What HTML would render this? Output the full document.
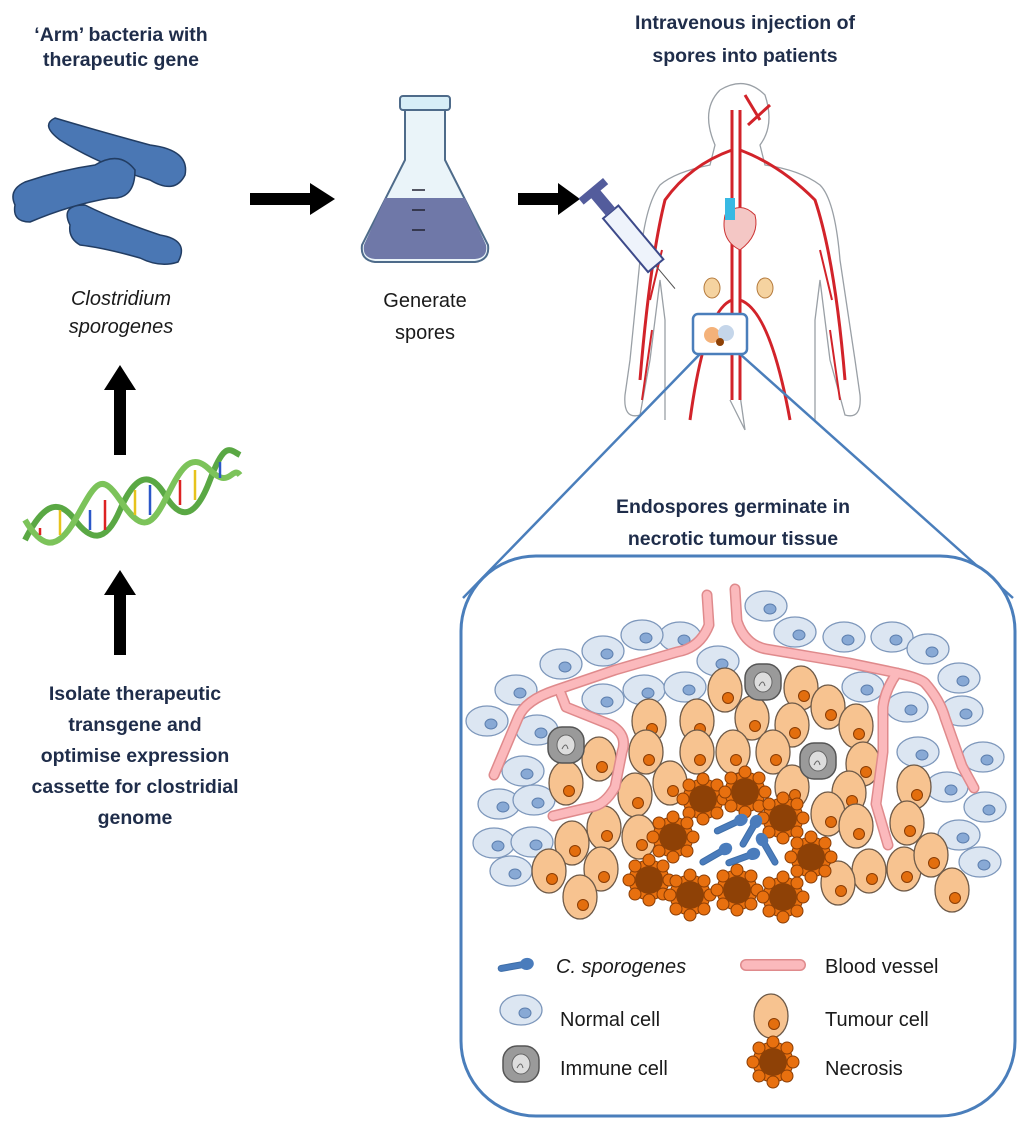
<!DOCTYPE html>
<html><head><meta charset="utf-8"><style>
body{margin:0;background:#fff;}
svg{display:block;}
.t{font-family:"Liberation Sans",sans-serif;}
.h{font-family:"Liberation Sans",sans-serif;font-weight:bold;fill:#1f2d4a;font-size:19.5px;text-anchor:middle;}
.l{font-family:"Liberation Sans",sans-serif;fill:#1a1a1a;font-size:20px;}
</style></head><body>
<svg width="1024" height="1125" viewBox="0 0 1024 1125" xmlns="http://www.w3.org/2000/svg">
<defs>
<g id="nc"><ellipse rx="21" ry="15" fill="#dce6f2" stroke="#7d97bb" stroke-width="1.3"/><ellipse cx="4" cy="3" rx="6" ry="5" fill="#88a9d5" stroke="#5d7fae"/></g>
<g id="tc"><ellipse rx="17" ry="22" fill="#f7c390" stroke="#6e5a48" stroke-width="1.3"/><circle cx="3" cy="8" r="5.5" fill="#e36e0e" stroke="#8a3d05"/></g>
<g id="ic"><rect x="-18" y="-18" width="36" height="36" rx="14" fill="#9a9a9a" stroke="#555" stroke-width="1.5"/><ellipse rx="9" ry="10" fill="#ddd" stroke="#666"/><path d="M-4,4 q4,-8 6,0" fill="none" stroke="#666"/></g>
<g id="nx"><circle r="20" fill="#e8700f" stroke="#8a3d05"/>
<g fill="#e8700f" stroke="#8a3d05"><circle cx="0" cy="-20" r="6"/><circle cx="14" cy="-14" r="6"/><circle cx="20" cy="0" r="6"/><circle cx="14" cy="14" r="6"/><circle cx="0" cy="20" r="6"/><circle cx="-14" cy="14" r="6"/><circle cx="-20" cy="0" r="6"/><circle cx="-14" cy="-14" r="6"/></g>
<circle r="14" fill="#8e4106"/></g>
<g id="bac"><path d="M-14,0 L8,0" stroke="#3e6ea8" stroke-width="7" stroke-linecap="round"/><ellipse cx="12" cy="0" rx="7" ry="6" fill="#4a7cbc"/><path d="M-14,0 L8,0" stroke="#4a7cbc" stroke-width="5" stroke-linecap="round"/></g>
</defs>

<text class="h" x="121" y="41">‘Arm’ bacteria with</text>
<text class="h" x="121" y="66">therapeutic gene</text>
<text class="h" x="745" y="29">Intravenous injection of</text>
<text class="h" x="745" y="62">spores into patients</text>
<text class="h" x="733" y="513">Endospores germinate in</text>
<text class="h" x="733" y="545">necrotic tumour tissue</text>
<g class="h"><text x="135" y="700">Isolate therapeutic</text><text x="135" y="731">transgene and</text><text x="135" y="762">optimise expression</text><text x="135" y="793">cassette for clostridial</text><text x="135" y="824">genome</text></g>

<g fill="#4a77b4" stroke="#223d63" stroke-width="1.5">
<path d="M60,140 Q40,125 55,118 Q95,130 150,145 Q190,150 185,175 Q175,195 150,180 Q100,165 60,140Z"/>
<path d="M15,205 Q8,190 25,182 Q60,170 95,165 Q120,150 135,170 Q135,200 110,198 Q70,205 30,222 Q12,222 15,205Z"/>
<path d="M70,225 Q60,205 85,205 Q115,220 160,235 Q190,240 178,262 Q160,268 140,258 Q105,248 80,245 Q68,238 70,225Z"/>
</g>
<text class="t" x="121" y="305" text-anchor="middle" font-style="italic" font-size="20" fill="#1a1a1a">Clostridium</text>
<text class="t" x="121" y="333" text-anchor="middle" font-style="italic" font-size="20" fill="#1a1a1a">sporogenes</text>

<path d="M114,455 L114,390 L104,390 L120,365 L136,390 L126,390 L126,455Z" fill="#000"/>
<path d="M114,655 L114,595 L104,595 L120,570 L136,595 L126,595 L126,655Z" fill="#000"/>

<g fill="none" stroke-width="6">
<path d="M25,540 C45,500 60,500 75,520 S105,545 120,510 S150,470 165,495 S195,520 210,480 S230,450 240,455" stroke="#5aa844"/>
<path d="M25,520 C40,545 55,555 75,520 S100,470 120,500 S150,530 165,500 S190,450 210,470 S232,465 240,475" stroke="#7cc35a"/>
</g>
<g stroke-width="2.5">
<line x1="40" y1="528" x2="40" y2="535" stroke="#d22"/><line x1="60" y1="510" x2="60" y2="535" stroke="#e7c31c"/><line x1="90" y1="510" x2="90" y2="530" stroke="#2b57c8"/><line x1="105" y1="500" x2="105" y2="530" stroke="#d22"/><line x1="135" y1="490" x2="135" y2="515" stroke="#e7c31c"/><line x1="150" y1="485" x2="150" y2="515" stroke="#2b57c8"/><line x1="180" y1="480" x2="180" y2="505" stroke="#d22"/><line x1="195" y1="470" x2="195" y2="500" stroke="#e7c31c"/><line x1="220" y1="462" x2="220" y2="478" stroke="#2b57c8"/>
</g>

<path d="M250,193 L310,193 L310,183 L335,199 L310,215 L310,205 L250,205Z" fill="#000"/>
<path d="M518,193 L558,193 L558,183 L580,199 L558,215 L558,205 L518,205Z" fill="#000"/>

<path d="M405,108 L445,108 L445,160 L488,245 Q490,260 475,262 L375,262 Q360,260 362,245 L405,160Z" fill="#eaf4f9" stroke="#4e6b8a" stroke-width="2"/>
<path d="M385,198 L465,198 L486,245 Q488,258 475,259 L375,259 Q362,258 364,245Z" fill="#6f78a8"/>
<rect x="400" y="96" width="50" height="14" rx="3" fill="#d7eef7" stroke="#4e6b8a" stroke-width="2"/>
<g stroke="#223" stroke-width="1.5"><line x1="412" y1="190" x2="425" y2="190"/><line x1="412" y1="210" x2="425" y2="210"/><line x1="412" y1="230" x2="425" y2="230"/></g>
<text class="t" x="425" y="307" text-anchor="middle" font-size="20" fill="#1a1a1a">Generate</text>
<text class="t" x="425" y="339" text-anchor="middle" font-size="20" fill="#1a1a1a">spores</text>

<!-- body -->
<g fill="none" stroke="#9aa0a6" stroke-width="1.3">
<path d="M720,90 Q745,75 765,95 Q775,125 760,145 L765,165 Q800,170 820,185 Q835,200 840,260 L855,360 L860,395 Q862,420 845,415 L830,360 L820,280 L815,320 L815,420"/>
<path d="M720,90 Q700,110 715,145 L710,165 Q675,172 660,185 Q645,205 640,260 L630,360 L625,395 Q623,420 640,415 L650,360 L660,280 L665,320 L665,420"/>
<path d="M730,400 L745,430 M740,395 L745,430"/>
</g>
<g fill="none" stroke="#d2232a" stroke-width="3">
<path d="M740,110 L740,400"/><path d="M732,110 L732,400"/>
<path d="M740,150 Q780,165 815,200 Q835,260 845,380"/><path d="M732,150 Q690,165 665,200 Q650,260 640,380"/>
<path d="M740,300 Q770,310 790,420"/><path d="M732,300 Q705,310 690,420"/>
<path d="M745,95 L760,120 M748,125 L770,105"/>
<path d="M830,330 L840,400 M652,330 L642,400 M820,250 L832,300 M662,250 L650,300" stroke-width="2"/>
</g>
<path d="M725,215 q15,-15 30,0 q5,20 -15,35 q-20,-10 -15,-35z" fill="#f4c7c5" stroke="#c33"/>
<rect x="725" y="198" width="10" height="22" fill="#38b9e3"/>
<ellipse cx="712" cy="288" rx="8" ry="10" fill="#f5d3a0" stroke="#b47a3c"/><ellipse cx="765" cy="288" rx="8" ry="10" fill="#f5d3a0" stroke="#b47a3c"/>
<g transform="rotate(-40 630 235)"><rect x="620" y="205" width="20" height="70" fill="#eef3fb" stroke="#3d4a8a" stroke-width="2"/><rect x="624" y="180" width="12" height="25" fill="#535c9c"/><rect x="614" y="174" width="32" height="8" fill="#535c9c"/><line x1="630" y1="275" x2="630" y2="305" stroke="#555"/></g>
<rect x="693" y="314" width="54" height="40" rx="5" fill="#fff" stroke="#4a7ebb" stroke-width="2.5"/>
<circle cx="712" cy="335" r="8" fill="#f4b27a"/><circle cx="726" cy="333" r="8" fill="#c5d6ea"/><circle cx="720" cy="342" r="4" fill="#8e4106"/>
<line x1="700" y1="354" x2="463" y2="598" stroke="#4a7ebb" stroke-width="2.5"/>
<line x1="740" y1="354" x2="1013" y2="598" stroke="#4a7ebb" stroke-width="2.5"/>

<rect x="461" y="556" width="554" height="560" rx="75" fill="#fff" stroke="#4a7ebb" stroke-width="3"/>

<g>
<use href="#nc" x="766" y="606"/><use href="#nc" x="795" y="632"/><use href="#nc" x="844" y="637"/><use href="#nc" x="892" y="637"/><use href="#nc" x="928" y="649"/><use href="#nc" x="959" y="678"/><use href="#nc" x="962" y="711"/><use href="#nc" x="983" y="757"/><use href="#nc" x="985" y="807"/><use href="#nc" x="959" y="835"/><use href="#nc" x="980" y="862"/><use href="#nc" x="863" y="687"/><use href="#nc" x="907" y="707"/><use href="#nc" x="918" y="752"/><use href="#nc" x="947" y="787"/><use href="#nc" x="718" y="661"/><use href="#nc" x="680" y="637"/><use href="#nc" x="642" y="635"/><use href="#nc" x="603" y="651"/><use href="#nc" x="561" y="664"/><use href="#nc" x="516" y="690"/><use href="#nc" x="487" y="721"/><use href="#nc" x="537" y="730"/><use href="#nc" x="523" y="771"/><use href="#nc" x="499" y="804"/><use href="#nc" x="534" y="800"/><use href="#nc" x="494" y="843"/><use href="#nc" x="532" y="842"/><use href="#nc" x="511" y="871"/><use href="#nc" x="603" y="699"/><use href="#nc" x="644" y="690"/><use href="#nc" x="685" y="687"/>
</g>
<g>
<use href="#tc" x="725" y="690"/><use href="#tc" x="801" y="688"/><use href="#tc" x="828" y="707"/><use href="#tc" x="856" y="726"/><use href="#tc" x="752" y="718"/><use href="#tc" x="792" y="725"/><use href="#tc" x="649" y="721"/><use href="#tc" x="697" y="721"/><use href="#tc" x="646" y="752"/><use href="#tc" x="697" y="752"/><use href="#tc" x="733" y="752"/><use href="#tc" x="773" y="752"/><use href="#tc" x="863" y="764"/><use href="#tc" x="599" y="759"/><use href="#tc" x="566" y="783"/><use href="#tc" x="670" y="783"/><use href="#tc" x="635" y="795"/><use href="#tc" x="792" y="787"/><use href="#tc" x="849" y="793"/><use href="#tc" x="828" y="814"/><use href="#tc" x="856" y="826"/><use href="#tc" x="914" y="787"/><use href="#tc" x="907" y="823"/><use href="#tc" x="604" y="828"/><use href="#tc" x="639" y="837"/><use href="#tc" x="572" y="843"/><use href="#tc" x="549" y="871"/><use href="#tc" x="601" y="869"/><use href="#tc" x="580" y="897"/><use href="#tc" x="869" y="871"/><use href="#tc" x="838" y="883"/><use href="#tc" x="904" y="869"/><use href="#tc" x="931" y="855"/><use href="#tc" x="952" y="890"/>
</g>

<g fill="none" stroke-linecap="round" stroke-linejoin="round">
<g stroke="#df8a8c" stroke-width="11">
<path d="M707,595 L709,625 Q700,648 677,652 L615,670 L556,690 Q525,700 518,718 L494,775"/>
<path d="M561,694 L566,707 L611,725 Q628,735 622,752 L615,787 Q605,805 591,807 L553,816"/>
<path d="M735,589 L737,621 Q745,645 766,649 L849,663 L897,673 Q920,678 925,683 Q940,700 945,718 L962,766 L974,788"/>
<path d="M897,673 Q885,690 883,707 L883,752 L876,804 L888,845"/>
</g>
<g stroke="#fbb9bc" stroke-width="8">
<path d="M707,595 L709,625 Q700,648 677,652 L615,670 L556,690 Q525,700 518,718 L494,775"/>
<path d="M561,694 L566,707 L611,725 Q628,735 622,752 L615,787 Q605,805 591,807 L553,816"/>
<path d="M735,589 L737,621 Q745,645 766,649 L849,663 L897,673 Q920,678 925,683 Q940,700 945,718 L962,766 L974,788"/>
<path d="M897,673 Q885,690 883,707 L883,752 L876,804 L888,845"/>
</g>
</g>

<use href="#ic" x="763" y="682"/><use href="#ic" x="566" y="745"/><use href="#ic" x="818" y="761"/>
<use href="#nx" x="703" y="799"/><use href="#nx" x="745" y="792"/><use href="#nx" x="783" y="818"/><use href="#nx" x="811" y="857"/><use href="#nx" x="673" y="837"/><use href="#nx" x="649" y="880"/><use href="#nx" x="690" y="895"/><use href="#nx" x="737" y="890"/><use href="#nx" x="783" y="897"/>
<use href="#bac" transform="translate(730,825) rotate(-25)"/><use href="#bac" transform="translate(750,832) rotate(-60)"/><use href="#bac" transform="translate(715,855) rotate(-30)"/><use href="#bac" transform="translate(742,858) rotate(-20)"/><use href="#bac" transform="translate(768,850) rotate(-120)"/>

<use href="#bac" transform="translate(515,966) rotate(-10)"/>
<text class="l" x="556" y="973" font-style="italic">C. sporogenes</text>
<path d="M746,965 L800,965" stroke="#df8a8c" stroke-width="12" stroke-linecap="round"/><path d="M746,965 L800,965" stroke="#fbb9bc" stroke-width="9" stroke-linecap="round"/>
<text class="l" x="825" y="973">Blood vessel</text>
<use href="#nc" x="521" y="1010"/><text class="l" x="560" y="1026">Normal cell</text>
<use href="#tc" x="771" y="1016"/><text class="l" x="825" y="1026">Tumour cell</text>
<use href="#ic" x="521" y="1064"/><text class="l" x="560" y="1075">Immune cell</text>
<use href="#nx" x="773" y="1062"/><text class="l" x="825" y="1075">Necrosis</text>
</svg>
</body></html>
